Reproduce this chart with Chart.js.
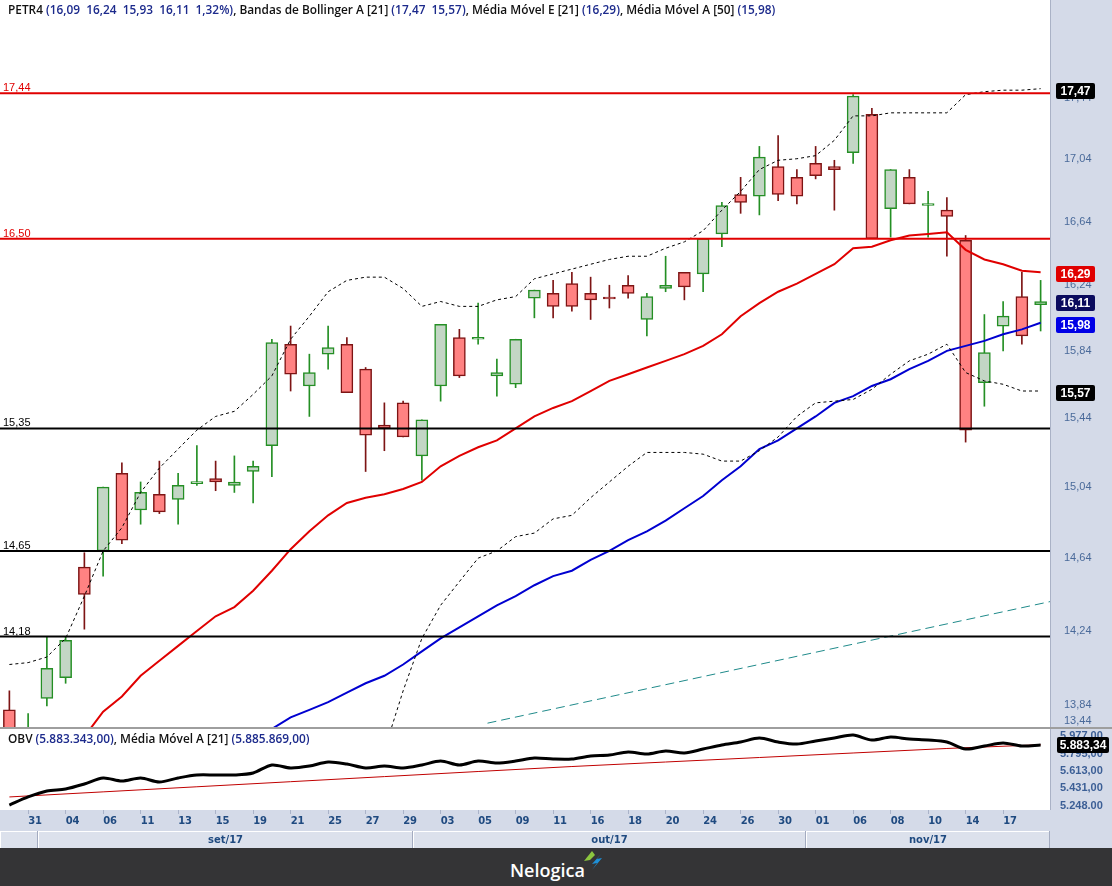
<!DOCTYPE html>
<html lang="pt-BR">
<head>
<meta charset="utf-8">
<title>PETR4 - Diário</title>
<script src="https://cdn.jsdelivr.net/npm/chart.js@4.4.1/dist/chart.umd.min.js"></script>
<style>
  html, body { margin: 0; padding: 0; }
  body { width: 1112px; height: 886px; position: relative; overflow: hidden; background: #fff; font-family: "Liberation Sans", Arial, sans-serif; }
  #painelPreco { position: absolute; left: 0; top: 0; width: 1112px; height: 727px; }
  #divisor { position: absolute; left: 0; top: 727px; width: 1112px; height: 2px; background: #9e9e9e; }
  #painelObv { position: absolute; left: 0; top: 729px; width: 1112px; height: 119px; }
  .titulo { position: absolute; left: 8px; white-space: pre; font-family: "Open Sans", sans-serif; font-size: 11.85px; font-weight: 600; color: #111; pointer-events: none; }
  .titulo .v { color: #1c2a8c; }
  #tituloPreco { top: 1px; }
  #tituloObv { top: 730px; }
  #rodape { position: absolute; left: 0; top: 848px; width: 1112px; height: 38px; background: #343436; }
  #marca { position: absolute; left: 510px; top: 10px; color: #fff; font-family: "Open Sans", sans-serif; font-size: 18px; font-weight: 600; }
  #logo { position: absolute; left: 582px; top: 3px; }
</style>
</head>
<body>
<div id="painelPreco"><canvas id="graficoPreco"></canvas></div>
<div id="divisor"></div>
<div id="painelObv"><canvas id="graficoObv"></canvas></div>
<div class="titulo" id="tituloPreco"></div>
<div class="titulo" id="tituloObv"></div>
<div id="rodape">
  <span id="marca">Nelogica</span>
  <svg id="logo" width="20" height="20" viewBox="0 0 20 20">
    <polygon points="10,0 2,10 8,9 13,4" fill="#8cc63f"/>
    <polygon points="19,3 10,13 15,12 10,19 20,7 15,8" fill="#1e90d8"/>
  </svg>
</div>
<script>
// pregões de 30/08/2017 a 21/11/2017
const dias = ['30','31','01','04','05','06','08','11','12','13','14','15','18','19','20','21','22','25','26','27','28','29',
              '02','03','04','05','06','09','10','11','13','16','17','18','19','20','23','24','25','26','27','30','31',
              '01','03','06','07','08','09','10','13','14','16','17','20','21'];
const ticksDias = [1,3,5,7,9,11,13,15,17,19,21,23,25,27,29,31,33,35,37,39,41,43,45,47,49,51,53];
const meses = ['ago/17', 'set/17', 'out/17', 'nov/17'];
const inicioMes = [0, 2, 22, 43];

// OHLC
const abertura   = [13.79,13.58,13.85,13.96,14.56,14.65,15.09,14.88,14.97,14.94,15.03,15.06,15.02,15.10,15.25,15.85,15.60,15.79,15.85,15.70,
                    15.37,15.50,15.19,15.60,15.89,15.88,15.66,15.61,16.13,16.16,16.22,16.16,16.13,16.21,16.00,16.19,16.29,16.28,16.53,16.78,
                    16.77,16.96,16.89,16.98,16.96,17.05,17.30,16.69,16.89,16.71,16.68,16.49,15.62,15.96,16.14,16.09];
const maxima     = [13.89,13.77,14.18,14.18,14.64,15.01,15.15,15.04,15.16,15.09,15.25,15.16,15.19,15.16,15.88,15.96,15.79,15.96,15.89,15.71,
                    15.50,15.51,15.40,15.97,15.94,16.10,15.76,15.88,16.18,16.24,16.29,16.26,16.21,16.27,16.16,16.39,16.29,16.50,16.73,16.89,
                    17.09,17.16,16.94,17.09,17.00,17.43,17.34,16.94,16.94,16.80,16.76,16.52,16.03,16.11,16.29,16.24];
const minima     = [13.58,13.55,13.81,13.93,14.22,14.51,14.69,14.80,14.86,14.80,15.02,14.99,14.98,14.92,15.07,15.57,15.42,15.70,15.56,15.10,
                    15.22,15.30,15.05,15.51,15.65,15.85,15.54,15.59,16.01,16.01,16.05,16.00,16.07,16.13,15.90,16.17,16.12,16.17,16.45,16.66,
                    16.65,16.74,16.72,16.88,16.68,16.98,16.50,16.51,16.72,16.51,16.39,15.27,15.48,15.81,15.85,15.93];
const fechamento = [13.62,13.68,14.01,14.16,14.41,15.01,14.71,14.98,14.87,15.02,15.04,15.04,15.04,15.13,15.86,15.67,15.68,15.83,15.56,15.31,
                    15.35,15.30,15.40,15.97,15.66,15.89,15.68,15.88,16.18,16.08,16.08,16.12,16.125,16.16,16.14,16.21,16.20,16.50,16.71,16.73,
                    17.02,16.78,16.77,16.90,16.94,17.42,16.50,16.94,16.72,16.72,16.64,15.34,15.80,16.02,15.90,16.11];

// indicadores
const bandaSup = [14.03,14.04,14.07,14.17,14.40,14.65,14.78,14.98,15.12,15.23,15.34,15.42,15.45,15.55,15.66,15.88,16.02,16.17,16.24,16.26,
                  16.26,16.19,16.08,16.11,16.08,16.08,16.12,16.14,16.25,16.28,16.31,16.34,16.37,16.39,16.39,16.44,16.48,16.55,16.68,16.80,
                  16.94,17.00,17.01,17.03,17.13,17.29,17.29,17.31,17.31,17.31,17.31,17.43,17.45,17.46,17.46,17.47];
const bandaInf = [null,null,null,null,null,null,null,null,null,null,null,null,null,null,null,null,null,null,null,null,
                  13.58,13.89,14.17,14.35,14.48,14.61,14.65,14.73,14.75,14.83,14.85,14.95,15.04,15.13,15.21,15.21,15.21,15.20,15.16,15.16,
                  15.22,15.30,15.42,15.50,15.51,15.52,15.58,15.67,15.75,15.79,15.85,15.68,15.63,15.61,15.57,15.57];
const mme21 = [null,null,null,null,13.65,13.78,13.86,13.97,14.05,14.13,14.21,14.29,14.34,14.43,14.54,14.66,14.76,14.85,14.92,14.95,
               14.97,15.00,15.04,15.13,15.19,15.24,15.28,15.35,15.42,15.47,15.51,15.57,15.63,15.67,15.71,15.75,15.79,15.84,15.91,16.02,
               16.10,16.17,16.22,16.28,16.34,16.44,16.45,16.49,16.52,16.53,16.54,16.43,16.37,16.34,16.30,16.29];
const mma50 = [null,null,null,null,null,null,null,null,null,null,null,null,null,null,13.69,13.75,13.79,13.83,13.88,13.93,
               13.97,14.03,14.10,14.17,14.23,14.29,14.35,14.40,14.46,14.51,14.54,14.60,14.65,14.71,14.76,14.82,14.89,14.96,15.05,15.13,
               15.23,15.28,15.35,15.42,15.50,15.54,15.60,15.64,15.70,15.75,15.81,15.84,15.87,15.91,15.94,15.98];
const niveis = [17.44, 16.50, 15.35, 14.65, 14.18];
const tendenciaX = [25.5, 55.5];
const tendenciaY = [13.72, 14.37];
const ticksPreco = [17.44, 17.04, 16.64, 16.24, 15.84, 15.44, 15.04, 14.64, 14.24, 13.84];

// OBV (milhares)
const obv = [5258,5342,5404,5425,5477,5540,5508,5540,5498,5540,5571,5571,5571,5592,5675,5644,5664,5706,5685,5644,
             5664,5644,5675,5716,5675,5716,5696,5716,5748,5737,5737,5769,5779,5810,5789,5821,5800,5841,5883,5914,
             5956,5914,5893,5925,5956,5987,5935,5966,5945,5935,5914,5841,5872,5904,5872,5883];
const obvMediaX = [0, 5, 10, 15, 20, 25, 30, 35, 40, 45, 50, 55];
const obvMedia  = [5342, 5395, 5448, 5501, 5554, 5607, 5659, 5706, 5753, 5800, 5847, 5886];
const ticksObv = [5977, 5795, 5613, 5431, 5248];
const rotulosObv = ['5.977,00', '5.795,00', '5.613,00', '5.431,00', '5.248.00'];
const obvTitulo = ['5.883.343,00', '5.885.869,00'];
const obvUltimo = '5.883,34';

const corEixo = '#4a6a9a';
const fmt = v => v.toFixed(2).replace('.', ',');
const pontos = arr => arr.map((v, i) => v === null ? null : { x: i, y: v }).filter(p => p);

// títulos
const u = abertura.length - 1;
const variacao = (fechamento[u] / fechamento[u - 1] - 1) * 100;
document.getElementById('tituloPreco').innerHTML =
  `PETR4 <span class="v">(${fmt(abertura[u])}  ${fmt(maxima[u])}  ${fmt(minima[u])}  ${fmt(fechamento[u])}  ${fmt(variacao)}%)</span>, ` +
  `Bandas de Bollinger A [21] <span class="v">(${fmt(bandaSup[u])}  ${fmt(bandaInf[u])})</span>, ` +
  `Média Móvel E [21] <span class="v">(${fmt(mme21[u])})</span>, Média Móvel A [50] <span class="v">(${fmt(mma50[u])})</span>`;
document.getElementById('tituloObv').innerHTML =
  `OBV <span class="v">(${obvTitulo[0]})</span>, Média Móvel A [21] <span class="v">(${obvTitulo[1]})</span>`;

function etiqueta(ctx, x, yc, w, txt, cor) {
    const yy = Math.round(yc);
    ctx.fillStyle = cor;
    ctx.beginPath();
    ctx.roundRect(x, yy - 8, w, 16, 2);
    ctx.fill();
    ctx.fillStyle = '#fff';
    ctx.font = 'bold 12px "Liberation Sans"';
    ctx.textAlign = 'center';
    ctx.textBaseline = 'middle';
    ctx.fillText(txt, x + w / 2, yy + 0.5);
}

const fundoEixo = {
    id: 'fundoEixo',
    beforeDraw(chart) {
        const { ctx, chartArea: a, width, height } = chart;
        ctx.save();
        ctx.fillStyle = '#d4dae8';
        ctx.fillRect(a.right, 0, width - a.right, height);
        ctx.fillStyle = '#aab2c6';
        ctx.fillRect(a.right, 0, 1, height);
        ctx.restore();
    }
};

const marcacoesPreco = {
    id: 'marcacoesPreco',
    afterDraw(chart) {
        const { ctx, chartArea: a } = chart;
        const y = chart.scales.y;
        ctx.save();
        ctx.font = '11px "Liberation Sans"';
        ctx.textAlign = 'left';
        ctx.textBaseline = 'alphabetic';
        niveis.forEach((n, k) => {
            ctx.fillStyle = k < 2 ? '#e00000' : '#000';
            ctx.fillText(fmt(n), 3, y.getPixelForValue(n) - 2);
        });
        ctx.fillStyle = corEixo;
        ctx.fillText('13,44', a.right + 14, a.bottom - 3);
        // últimos valores
        [[bandaSup[u], '#000'], [mme21[u], '#e00000'], [fechamento[u], '#0b0b5e'], [mma50[u], '#0000e6'], [bandaInf[u], '#000']]
            .forEach(([v, cor]) => etiqueta(ctx, a.right + 6, y.getPixelForValue(v) + 2, 39, fmt(v), cor));
        ctx.restore();
    }
};

const alta = abertura.map((o, i) => fechamento[i] >= o);
const verde = '#248f24', vermelho = '#7d1414';

const datasetsPreco = [
    {
        type: 'bar', label: 'pavio', order: 4, grouped: false, barThickness: 1, borderWidth: 0,
        data: minima.map((l, i) => ({ x: i, y: [l, maxima[i]] })),
        backgroundColor: alta.map(a => a ? verde : vermelho)
    },
    {
        type: 'bar', label: 'corpo', order: 3, grouped: false, barThickness: 12, minBarLength: 2,
        borderWidth: 1.5, borderSkipped: false,
        data: abertura.map((o, i) => ({ x: i, y: [Math.min(o, fechamento[i]), Math.max(o, fechamento[i])] })),
        backgroundColor: alta.map(a => a ? '#c3d6c5' : '#ff8282'),
        borderColor: alta.map(a => a ? verde : vermelho)
    },
    { type: 'line', order: 1, data: pontos(bandaSup), borderColor: '#000', borderWidth: 1, borderDash: [3, 3], pointRadius: 0 },
    { type: 'line', order: 1, data: pontos(bandaInf), borderColor: '#000', borderWidth: 1, borderDash: [3, 3], pointRadius: 0 },
    { type: 'line', order: 1, data: pontos(mme21), borderColor: '#e00000', borderWidth: 2, pointRadius: 0 },
    { type: 'line', order: 1, data: pontos(mma50), borderColor: '#0000d0', borderWidth: 2, pointRadius: 0 },
    {
        type: 'line', order: 1, borderColor: '#1f8a8a', borderWidth: 1, borderDash: [9, 5], pointRadius: 0,
        data: tendenciaX.map((x, k) => ({ x, y: tendenciaY[k] }))
    }
];
niveis.forEach((n, k) => datasetsPreco.push({
    type: 'line', order: 0, borderColor: k < 2 ? '#e00000' : '#000', borderWidth: 2, pointRadius: 0,
    data: [{ x: -0.5, y: n }, { x: 55.5, y: n }]
}));

new Chart(document.getElementById('graficoPreco'), {
    type: 'bar',
    data: { datasets: datasetsPreco },
    options: {
        responsive: true, maintainAspectRatio: false, animation: false,
        layout: { padding: 0 },
        plugins: { legend: { display: false }, tooltip: { enabled: false } },
        scales: {
            x: { type: 'linear', min: -0.5, max: 55.5, offset: false, display: false },
            y: {
                type: 'logarithmic', position: 'right', min: 13.70, max: 18.07,
                grid: { display: false, drawTicks: false }, border: { display: false },
                afterBuildTicks: s => { s.ticks = ticksPreco.map(v => ({ value: v })); },
                afterFit: s => { s.width = 62; s.paddingTop = 0; s.paddingBottom = 0; },
                ticks: { padding: 14, labelOffset: 5, color: corEixo, font: { family: 'Liberation Sans', size: 11 }, callback: v => fmt(v) }
            }
        }
    },
    plugins: [fundoEixo, marcacoesPreco]
});

const painelObv = {
    id: 'painelObv',
    beforeDraw(chart) {
        const { ctx, chartArea: a, width, height } = chart;
        ctx.save();
        ctx.fillStyle = '#d4dae8';
        ctx.fillRect(a.right, 0, width - a.right, height);
        ctx.fillRect(0, a.bottom, width, height - a.bottom);
        ctx.fillStyle = '#aab2c6';
        ctx.fillRect(a.right, 0, 1, a.bottom);
        ctx.restore();
    },
    afterDraw(chart) {
        const { ctx, chartArea: a, height } = chart;
        const x = chart.scales.x, y = chart.scales.y;
        const topo = a.bottom + 21, alt = height - topo;
        ctx.save();
        inicioMes.forEach((s, k) => {
            const fim = k + 1 < inicioMes.length ? inicioMes[k + 1] : dias.length;
            const x0 = Math.round(x.getPixelForValue(s - 0.5)), x1 = Math.round(x.getPixelForValue(fim - 0.5));
            ctx.fillStyle = '#dce1ec';
            ctx.fillRect(x0, topo, x1 - x0, alt);
            ctx.fillStyle = '#fff';
            ctx.fillRect(x0, topo, x1 - x0, 1);
            ctx.fillRect(x0, topo, 1, alt);
            ctx.fillStyle = '#a3abc0';
            ctx.fillRect(x1 - 1, topo, 1, alt);
            if (x1 - x0 > 60) {
                ctx.fillStyle = '#1f4a80';
                ctx.font = 'bold 10px "DejaVu Sans"';
                ctx.textAlign = 'center';
                ctx.textBaseline = 'middle';
                ctx.fillText(meses[k], (x0 + x1) / 2, topo + alt / 2 + 1);
            }
        });
        etiqueta(ctx, a.right + 7, y.getPixelForValue(obv[u]), 52, obvUltimo, '#000');
        ctx.restore();
    }
};

new Chart(document.getElementById('graficoObv'), {
    type: 'line',
    data: {
        datasets: [
            { data: pontos(obv), borderColor: '#000', borderWidth: 3, pointRadius: 0, tension: 0.3 },
            { data: obvMediaX.map((x, k) => ({ x, y: obvMedia[k] })), borderColor: '#c00000', borderWidth: 1, pointRadius: 0 }
        ]
    },
    options: {
        responsive: true, maintainAspectRatio: false, animation: false,
        layout: { padding: 0 },
        plugins: { legend: { display: false }, tooltip: { enabled: false } },
        scales: {
            x: {
                type: 'linear', min: -0.5, max: 55.5, offset: false, position: 'bottom',
                grid: { drawOnChartArea: false, drawTicks: true, tickLength: 4, color: '#aab3c9' }, border: { display: false },
                afterBuildTicks: s => { s.ticks = ticksDias.map(v => ({ value: v })); },
                afterFit: s => { s.height = 38; s.paddingLeft = 0; s.paddingRight = 0; },
                ticks: {
                    align: 'start', padding: 1, autoSkip: false, maxRotation: 0, minRotation: 0,
                    color: '#1f4a80', font: { family: 'DejaVu Sans', size: 10, weight: 'bold' },
                    callback: v => dias[v]
                }
            },
            y: {
                position: 'right', min: 5206, max: 6050,
                grid: { display: false, drawTicks: false }, border: { display: false },
                afterBuildTicks: s => { s.ticks = ticksObv.map(v => ({ value: v })); },
                afterFit: s => { s.width = 62; s.paddingTop = 0; s.paddingBottom = 0; },
                ticks: {
                    padding: 10, color: '#3c5f96', font: { family: 'Liberation Sans', size: 11, weight: 'bold' },
                    callback: v => rotulosObv[ticksObv.indexOf(v)]
                }
            }
        }
    },
    plugins: [painelObv]
});
</script>
</body>
</html>
